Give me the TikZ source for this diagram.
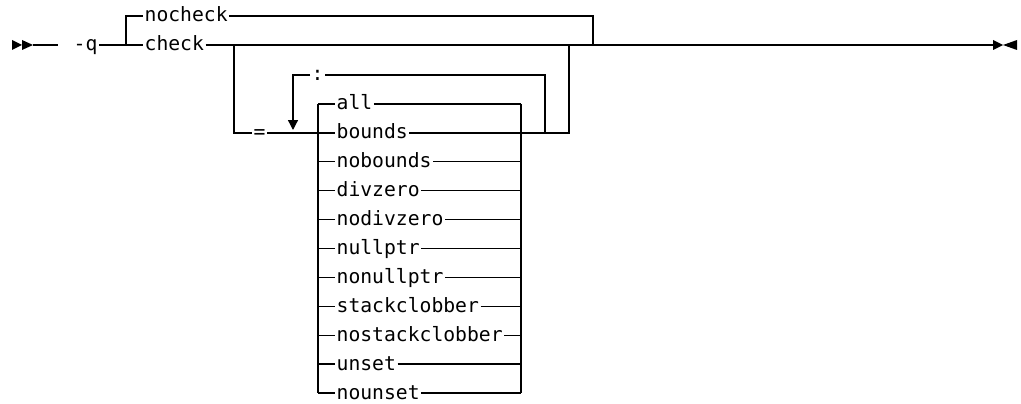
\documentclass[tikz,border=0pt]{standalone}
\usepackage{fontspec}
\setmonofont{DejaVu Sans Mono}
\usetikzlibrary{arrows.meta}
\tikzset{
  rail/.style={line width=1.3pt},
  kw/.style={
    anchor=west, inner xsep=1pt, inner ysep=0pt,
    text height=12pt, text depth=0pt,
    font=\ttfamily\fontsize{19.7}{20}\selectfont
  },
  endmark/.style={fill=black},
  looparrow/.style={-{Triangle[length=10pt, width=10pt]}, line width=1.3pt},
}

\begin{document}
\begin{tikzpicture}[x=1pt, y=-1pt, rail]
\useasboundingbox (0,0) rectangle (1021,404);

% Start and end marks
\fill[endmark] (12,40) -- (22,45) -- (12,50) -- cycle;
\fill[endmark] (22,40) -- (33,45) -- (22,50) -- cycle;
\fill[endmark] (993,40) -- (1003,45) -- (993,50) -- cycle;
\fill[endmark] (1017,40) -- (1003,45) -- (1017,50) -- cycle;
\coordinate (start) at (33,45);
\coordinate (startend) at (58,45);
\coordinate (finish) at (993,45);

% Main line
\node[kw] (q) at (72,45) {-q};
\node[kw] (nocheck) at (143,16) {nocheck};
\node[kw] (check) at (143,45) {check};
\coordinate (split) at (126,45);
\coordinate (join) at (593,45);
\coordinate (sub) at (234,45);
\coordinate (subjoin) at (569,45);

\draw (start) -- (startend);
\draw (q.east) -- (split) -- (check.west);
\draw (split) |- (nocheck.west);
\draw (nocheck.east) -| (join);
\draw (check.east) -- (finish);

% Sub-option list after =
\node[kw] (eq) at (252,133) {=};
\node[kw] (colon) at (310,75) {:};
\draw (sub) |- (eq.west);
\draw (eq.east) -- (318,133);
\draw (colon.east) -| (545,133);
\draw[looparrow] (colon.west) -| (293,130);
\draw (521,133) -- (569,133) -- (subjoin);

\draw (318,104) -- (318,393);
\draw (521,104) -- (521,393);
\foreach \name [count=\i] in {all,bounds,nobounds,divzero,nodivzero,nullptr,nonullptr,stackclobber,nostackclobber,unset,nounset}{
  \node[kw] (\name) at (335,{104+(\i-1)*28.9}) {\name};
  \draw (318,{104+(\i-1)*28.9}) -- (\name.west);
  \draw (\name.east) -- (521,{104+(\i-1)*28.9});
}

\end{tikzpicture}
\end{document}
